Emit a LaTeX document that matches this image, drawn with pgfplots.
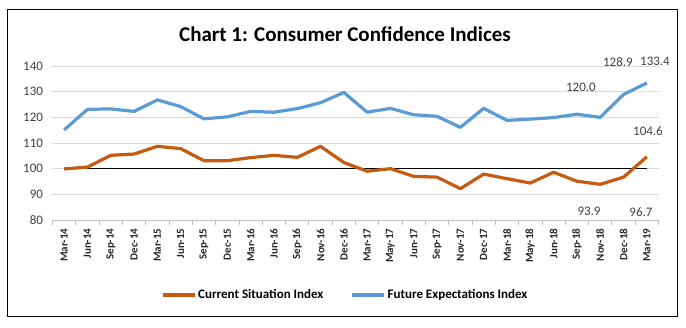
\documentclass[border=0pt]{standalone}
\usepackage{fontspec}
\setmainfont{Carlito}
\usepackage{pgfplots}
\pgfplotsset{compat=1.18}
\definecolor{csi}{HTML}{C55A11}
\definecolor{fei}{HTML}{5B9BD5}
\definecolor{gridc}{HTML}{D9D9D9}
\definecolor{tickc}{HTML}{BFBFBF}
\definecolor{txt}{HTML}{404040}
\begin{document}
\begin{tikzpicture}[x=1pt,y=1pt]
\useasboundingbox (0,0) rectangle (686,327);
\draw[black, line width=0.8pt] (7.5,11) rectangle (677.5,318);
\node[font=\bfseries\fontsize{21}{24}\selectfont] at (345,293) {Chart 1: Consumer Confidence Indices};
\begin{axis}[
  at={(52.5pt,107pt)}, anchor=south west,
  scale only axis, width=606pt, height=154pt,
  xmin=-0.5, xmax=25.5, ymin=80, ymax=140,
  ytick={80,90,...,140},
  xtick={0,...,25},
  xticklabels={Mar-14,Jun-14,Sep-14,Dec-14,Mar-15,Jun-15,Sep-15,Dec-15,Mar-16,Jun-16,Sep-16,Nov-16,Dec-16,Mar-17,May-17,Jun-17,Sep-17,Nov-17,Dec-17,Mar-18,May-18,Jun-18,Sep-18,Nov-18,Dec-18,Mar-19},
  minor xtick={-0.5,0.5,...,25.5},
  axis x line*=bottom, axis y line*=left,
  x axis line style={draw=tickc, line width=0.8pt, -},
  y axis line style={draw=none},
  ymajorgrids, grid style={gridc, line width=0.8pt},
  tick align=outside,
  major tick length=0pt, minor tick length=5pt,
  xtick style={draw=none}, ytick style={draw=none},
  minor x tick style={draw=tickc, line width=0.8pt},
  /pgf/number format/assume math mode=true,
  yticklabel style={font=\fontsize{13}{15}\selectfont, text=txt, anchor=east, xshift=-6pt},
  xticklabel style={font=\bfseries\fontsize{11}{13}\selectfont, rotate=90, anchor=east, xshift=-5pt, text=black!85},
  clip=false,
  legend style={at={(0.483,-0.487)}, anchor=center, draw=none, fill=none,
    font=\bfseries\fontsize{13}{15}\selectfont, legend columns=2,
    /tikz/every even column/.append style={column sep=25pt}},
  legend image code/.code={\draw[#1] (0pt,0pt) -- (32pt,0pt);},
  legend cell align=left,
]
\addplot[black, line width=0.8pt, forget plot] coordinates {(0,100) (25,100)};
\addplot[csi, line width=3.2pt, line join=round] coordinates {
(0,99.9) (1,100.6) (2,105.2) (3,105.7) (4,108.7) (5,107.8) (6,103.1) (7,103.1) (8,104.3) (9,105.2) (10,104.4) (11,108.7) (12,102.4) (13,99.0) (14,100.0) (15,97.0) (16,96.7) (17,92.2) (18,97.9) (19,96.1) (20,94.4) (21,98.6) (22,95.1) (23,93.9) (24,96.7) (25,104.6)};
\addlegendentry{Current Situation Index}
\addplot[fei, line width=3.2pt, line join=round] coordinates {
(0,115.1) (1,123.1) (2,123.3) (3,122.3) (4,126.8) (5,124.2) (6,119.4) (7,120.2) (8,122.3) (9,122.0) (10,123.4) (11,125.7) (12,129.7) (13,122.0) (14,123.5) (15,121.0) (16,120.4) (17,116.1) (18,123.5) (19,118.8) (20,119.3) (21,119.9) (22,121.2) (23,120.0) (24,128.9) (25,133.4)};
\addlegendentry{Future Expectations Index}
\begin{scope}[every node/.style={font=\fontsize{13}{15}\selectfont, text=txt}]
\node at (axis cs:25.35,141.7) {133.4};
\node at (axis cs:23.76,141.7) {128.9};
\node at (axis cs:22.17,131.7) {120.0};
\node at (axis cs:25.05,114.7) {104.6};
\node at (axis cs:22.52,83.2) {93.9};
\node at (axis cs:24.75,83.2) {96.7};
\end{scope}
\end{axis}
\end{tikzpicture}
\end{document}
